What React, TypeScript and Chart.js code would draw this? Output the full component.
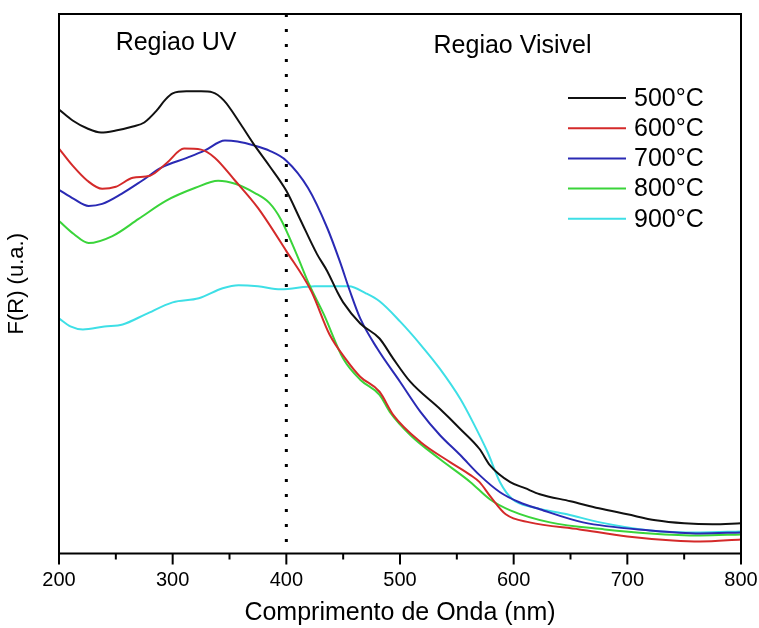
import React, { useEffect, useRef } from 'react';
import { Chart, registerables } from 'chart.js';

Chart.register(...registerables);

const FONT = '"Liberation Sans", Arial, Helvetica, sans-serif';

// ---- Data (wavelength in nm, F(R) in arbitrary units) ----
const X_MIN = 200;
const X_MAX = 800;
const X_MAJOR_STEP = 100;
const X_MINOR_STEP = 50;
const Y_MIN = 0;
const Y_MAX = 5.37;
const BOUNDARY_NM = 400;

const seriesLabels = ['500°C', '600°C', '700°C', '800°C', '900°C'];
const seriesColors = ['#111111', '#d42a2a', '#2a2ab4', '#3ad43a', '#3edfe6'];

const nm500 = [200, 212, 225, 237, 250, 265, 275, 286, 293, 300, 312, 325, 335, 345, 360, 371, 385, 400, 412, 427, 436, 445, 450, 465, 482, 494, 509, 535, 553, 570, 579, 597, 610, 623, 650, 675, 700, 725, 750, 775, 800];
const fr500 = [4.42, 4.31, 4.23, 4.19, 4.21, 4.25, 4.29, 4.41, 4.51, 4.58, 4.60, 4.60, 4.59, 4.51, 4.27, 4.08, 3.86, 3.61, 3.33, 2.98, 2.81, 2.60, 2.50, 2.29, 2.14, 1.94, 1.71, 1.44, 1.24, 1.04, 0.88, 0.71, 0.65, 0.59, 0.52, 0.45, 0.39, 0.33, 0.30, 0.29, 0.30];

const nm600 = [200, 212, 225, 238, 250, 265, 280, 295, 310, 325, 337, 355, 375, 400, 422, 438, 452, 465, 482, 494, 518, 544, 562, 570, 580, 593, 614, 658, 700, 740, 764, 800];
const fr600 = [4.03, 3.86, 3.71, 3.63, 3.65, 3.74, 3.76, 3.89, 4.03, 4.02, 3.94, 3.71, 3.44, 3.01, 2.61, 2.18, 1.94, 1.76, 1.61, 1.38, 1.11, 0.91, 0.78, 0.71, 0.56, 0.39, 0.31, 0.24, 0.17, 0.13, 0.12, 0.14];

const nm700 = [200, 213, 226, 238, 255, 273, 290, 313, 328, 346, 357, 372, 385, 400, 419, 436, 447, 456, 465, 480, 500, 518, 535, 553, 570, 588, 605, 623, 661, 720, 764, 800];
const fr700 = [3.62, 3.53, 3.46, 3.48, 3.58, 3.71, 3.84, 3.94, 4.01, 4.11, 4.10, 4.06, 4.01, 3.91, 3.64, 3.24, 2.91, 2.61, 2.34, 2.04, 1.71, 1.41, 1.18, 0.98, 0.78, 0.61, 0.51, 0.44, 0.31, 0.23, 0.20, 0.21];

const nm800 = [200, 213, 226, 247, 270, 294, 320, 340, 355, 372, 385, 395, 409, 420, 433, 450, 465, 482, 491, 509, 535, 562, 579, 597, 632, 680, 720, 764, 800];
const fr800 = [3.31, 3.18, 3.09, 3.16, 3.33, 3.51, 3.64, 3.71, 3.68, 3.59, 3.49, 3.33, 2.98, 2.68, 2.38, 1.94, 1.73, 1.58, 1.41, 1.18, 0.94, 0.71, 0.54, 0.43, 0.31, 0.24, 0.20, 0.18, 0.19];

const nm900 = [200, 210, 221, 240, 256, 276, 300, 323, 344, 358, 375, 395, 425, 455, 470, 482, 500, 518, 535, 553, 564, 577, 588, 599, 617, 647, 676, 720, 764, 800];
const fr900 = [2.34, 2.26, 2.23, 2.26, 2.28, 2.38, 2.50, 2.54, 2.64, 2.67, 2.66, 2.63, 2.66, 2.66, 2.59, 2.51, 2.31, 2.08, 1.84, 1.54, 1.31, 1.01, 0.71, 0.54, 0.46, 0.39, 0.31, 0.23, 0.21, 0.22];

const seriesX = [nm500, nm600, nm700, nm800, nm900];
const seriesY = [fr500, fr600, fr700, fr800, fr900];

const regionLabels = ['Regiao UV', 'Regiao Visivel'];
const regionCentersNm = [303, 599];

const xTitle = 'Comprimento de Onda (nm)';
const yTitle = 'F(R) (u.a.)';

const decorPlugin = {
  id: 'decor',
  afterDraw(chart: any) {
    const { ctx, chartArea: a, scales } = chart;
    const xs = scales.x;
    ctx.save();
    // frame
    ctx.strokeStyle = '#000';
    ctx.lineWidth = 2;
    ctx.strokeRect(a.left, a.top, a.right - a.left, a.bottom - a.top);
    // ticks (outward, bottom)
    ctx.lineWidth = 2;
    for (let v = X_MIN; v <= X_MAX; v += X_MINOR_STEP) {
      const px = xs.getPixelForValue(v);
      const len = v % X_MAJOR_STEP === 0 ? 11 : 6;
      ctx.beginPath();
      ctx.moveTo(px, a.bottom);
      ctx.lineTo(px, a.bottom + len);
      ctx.stroke();
    }
    // region labels
    ctx.fillStyle = '#000';
    ctx.font = `25px ${FONT}`;
    ctx.textAlign = 'center';
    ctx.textBaseline = 'alphabetic';
    ctx.fillText(regionLabels[0], xs.getPixelForValue(regionCentersNm[0]), a.top + 36);
    ctx.fillText(regionLabels[1], xs.getPixelForValue(regionCentersNm[1]), a.top + 39);
    // legend
    const ds = chart.data.datasets.filter((d: any) => d.label);
    ctx.textAlign = 'left';
    ctx.textBaseline = 'middle';
    ds.forEach((d: any, i: number) => {
      const y = a.top + 84 + i * 30.2;
      ctx.strokeStyle = d.borderColor;
      ctx.lineWidth = 2;
      ctx.beginPath();
      ctx.moveTo(a.right - 173, y);
      ctx.lineTo(a.right - 115, y);
      ctx.stroke();
      ctx.fillStyle = '#000';
      ctx.fillText(d.label, a.right - 107, y + 1);
    });
    ctx.restore();
  },
};

export default function App() {
  const ref = useRef<HTMLCanvasElement>(null);
  useEffect(() => {
    document.body.style.margin = '0';
    const datasets: any[] = seriesLabels.map((label, i) => ({
      label,
      data: seriesX[i].map((x, j) => ({ x, y: seriesY[i][j] })),
      borderColor: seriesColors[i],
      backgroundColor: seriesColors[i],
      borderWidth: 2,
      pointRadius: 0,
      fill: false,
      cubicInterpolationMode: 'monotone',
    }));
    datasets.push({
      label: '',
      data: [
        { x: BOUNDARY_NM, y: Y_MAX },
        { x: BOUNDARY_NM, y: Y_MIN },
      ],
      borderColor: '#000',
      borderWidth: 3,
      borderDash: [3, 12],
      pointRadius: 0,
      tension: 0,
      fill: false,
    });
    const chart = new Chart(ref.current as HTMLCanvasElement, {
      type: 'line',
      data: { datasets },
      options: {
        animation: false,
        responsive: false,
        devicePixelRatio: 1,
        layout: { padding: { top: 14, right: 18, left: 0, bottom: 0 } },
        plugins: { legend: { display: false }, tooltip: { enabled: false } },
        scales: {
          x: {
            type: 'linear',
            min: X_MIN,
            max: X_MAX,
            afterFit: (scale: any) => {
              scale.paddingRight = 0;
              scale.paddingLeft = 0;
            },
            ticks: {
              stepSize: X_MAJOR_STEP,
              color: '#000',
              font: { family: FONT, size: 20 },
              padding: 15,
              maxRotation: 0,
              autoSkip: false,
            },
            grid: { display: false, drawTicks: false },
            border: { display: false },
            title: {
              display: true,
              text: xTitle,
              color: '#000',
              font: { family: FONT, size: 25, lineHeight: 0.82 },
              padding: { top: -5, bottom: 5 },
            },
          },
          y: {
            type: 'linear',
            min: Y_MIN,
            max: Y_MAX,
            ticks: { display: false },
            grid: { display: false, drawTicks: false },
            border: { display: false },
            title: {
              display: true,
              text: yTitle,
              color: '#000',
              font: { family: FONT, size: 22, lineHeight: 1 },
              padding: { top: 6, bottom: 31 },
            },
          },
        },
      },
      plugins: [decorPlugin],
    });
    return () => chart.destroy();
  }, []);
  return (
    <div style={{ width: 759, height: 628 }}>
      <canvas ref={ref} width={759} height={628} style={{ display: 'block' }} />
    </div>
  );
}
